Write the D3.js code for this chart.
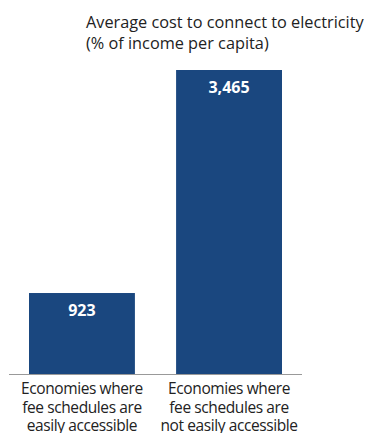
<!DOCTYPE html>
<html>
<head>
<meta charset="utf-8">
<script src="https://cdn.jsdelivr.net/npm/d3@7"></script>
<style>
  body { margin: 0; background: #fff; }
  text { font-family: "Open Sans", "Noto Sans", sans-serif; }
</style>
</head>
<body>
<div id="chart"></div>
<script>
var categories = [
  ["Economies where", "fee schedules are", "easily accessible"],
  ["Economies where", "fee schedules are", "not easily accessible"]
];
var values = [923, 3465];
var valueLabels = ["923", "3,465"];
var titleLines = ["Average cost to connect to electricity", "(% of income per capita)"];

var width = 372, height = 433;
var baseY = 374;

var svg = d3.select("#chart").append("svg")
  .attr("width", width)
  .attr("height", height);

var x = d3.scaleBand()
  .domain(d3.range(values.length))
  .range([9, 302])
  .paddingInner(0.28)
  .paddingOuter(0.136);

var y = d3.scaleLinear()
  .domain([0, d3.max(values)])
  .range([baseY, 70]);

/* title */
svg.append("text")
  .attr("x", 86)
  .attr("y", 28)
  .attr("font-size", 16.3)
  .attr("fill", "#222")
  .selectAll("tspan")
  .data(titleLines).enter()
  .append("tspan")
  .attr("x", 86)
  .attr("dy", (d, i) => i == 0 ? 0 : 21)
  .text(d => d);

/* bars */
svg.selectAll(".bar")
  .data(values).enter()
  .append("rect")
  .attr("class", "bar")
  .attr("x", (d, i) => x(i))
  .attr("y", d => y(d))
  .attr("width", x.bandwidth())
  .attr("height", d => baseY - y(d))
  .attr("fill", "#1a477f");

svg.selectAll(".val")
  .data(values).enter()
  .append("text")
  .attr("class", "val")
  .attr("x", (d, i) => x(i) + x.bandwidth() / 2)
  .attr("y", d => y(d) + 23)
  .attr("text-anchor", "middle")
  .attr("font-size", 16)
  .attr("font-weight", "bold")
  .attr("fill", "#fff")
  .text((d, i) => valueLabels[i]);

/* baseline */
svg.append("line")
  .attr("x1", 9).attr("x2", 302)
  .attr("y1", baseY + 0.5).attr("y2", baseY + 0.5)
  .attr("stroke", "#999")
  .attr("stroke-width", 1);

/* category labels */
svg.selectAll(".cat")
  .data(categories).enter()
  .append("text")
  .attr("class", "cat")
  .attr("text-anchor", "middle")
  .attr("font-size", 15.5)
  .attr("letter-spacing", -0.4)
  .attr("fill", "#222")
  .attr("y", 394)
  .each(function (d, i) {
    var cx = x(i) + x.bandwidth() / 2;
    d3.select(this).selectAll("tspan")
      .data(d).enter()
      .append("tspan")
      .attr("x", cx)
      .attr("dy", (t, j) => j == 0 ? 0 : 18.5)
      .text(t => t);
  });
</script>
</body>
</html>
